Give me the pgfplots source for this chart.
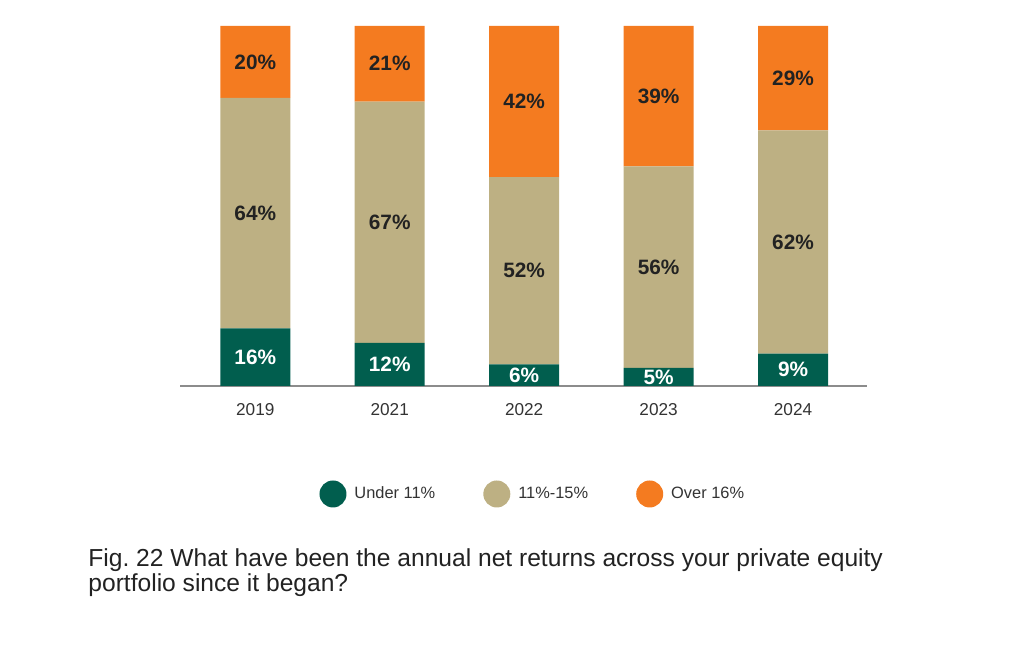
\documentclass[border=0pt]{standalone}
\usepackage{pgfplots}
\pgfplotsset{compat=1.18}
\usepackage{fontspec}
\setmainfont{Liberation Sans}
\definecolor{pegreen}{HTML}{015E4E}
\definecolor{petan}{HTML}{BDB083}
\definecolor{peorange}{HTML}{F47B20}
\definecolor{pedark}{HTML}{222222}
\begin{document}
\begin{tikzpicture}
\path[use as bounding box] (0,0) rectangle (512pt,331pt);
\begin{axis}[
    at={(90pt,138pt)}, anchor=south west,
    scale only axis,
    width=343.5pt, height=180pt,
    ybar stacked,
    bar width=35pt,
    xmin=-0.56, xmax=4.55,
    ymin=0, ymax=100,
    axis x line=bottom,
    axis y line=none,
    axis line style={draw=black!45, line width=0.6pt, -},
    xtick=data,
    xticklabels={2019,2021,2022,2023,2024},
    major tick length=0pt,
    xticklabel style={font=\fontsize{8.6}{10}\selectfont, text=black!80, yshift=-5pt},
    point meta=explicit symbolic,
    nodes near coords={\pgfplotspointmeta\%},
    every node near coord/.append style={anchor=center, font=\fontsize{10.4}{11}\bfseries,
        text=pedark},
    legend columns=3,
    legend style={at={(0.515,-0.3)}, anchor=center, draw=none, fill=none,
        font=\fontsize{8.2}{10}\selectfont, text=black!80,
        /tikz/every even column/.append style={column sep=22pt}},
    legend image code/.code={\fill (0pt,0pt) circle (6.75pt); \path (8.75pt,0pt);},
]
\addplot[fill=pegreen, draw=none, every node near coord/.append style={text=white}]
    coordinates {(0,16) [16] (1,12) [12] (2,6) [6] (3,5) [5] (4,9) [9]};
\addplot[fill=petan, draw=none]
    coordinates {(0,64) [64] (1,67) [67] (2,52) [52] (3,56) [56] (4,62) [62]};
\addplot[fill=peorange, draw=none]
    coordinates {(0,20) [20] (1,21) [21] (2,42) [42] (3,39) [39] (4,29) [29]};
\legend{Under 11\%, 11\%-15\%, Over 16\%}
\end{axis}
\node[anchor=base west, inner sep=0pt, font=\fontsize{12.3}{13}\selectfont, text=pedark]
    at (44pt,47.5pt) {Fig.\ 22 What have been the annual net returns across your private equity};
\node[anchor=base west, inner sep=0pt, font=\fontsize{12.3}{13}\selectfont, text=pedark]
    at (44pt,35pt) {portfolio since it began?};
\end{tikzpicture}
\end{document}
